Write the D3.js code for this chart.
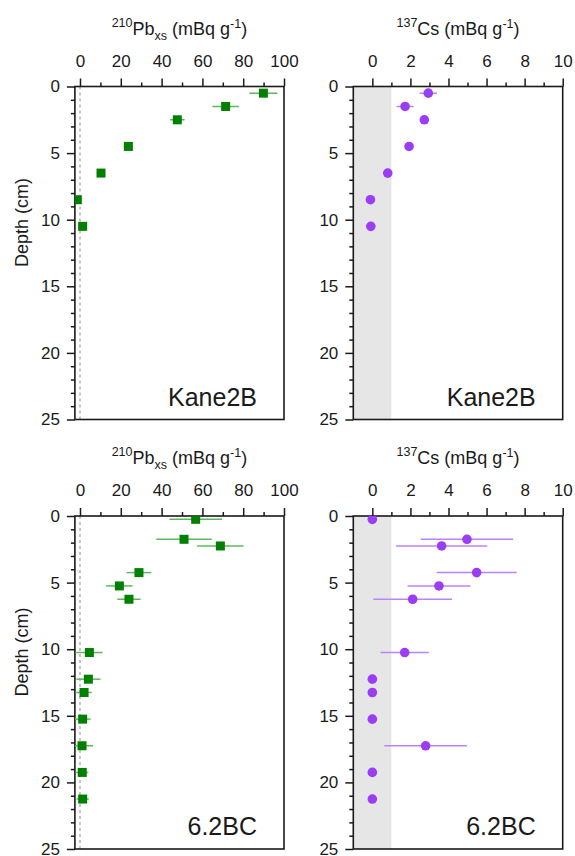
<!DOCTYPE html>
<html>
<head>
<meta charset="utf-8">
<script src="https://cdn.jsdelivr.net/npm/d3@7"></script>
<style>
  body { margin: 0; background: #fff; }
  text { font-family: "Liberation Sans", Arial, sans-serif; fill: #1a1a1a; }
</style>
</head>
<body>
<svg id="chart" width="575" height="856"></svg>
<script>
// Kane2B core
const kaneDepth = [0.5, 1.5, 2.5, 4.5, 6.5, 8.5, 10.5];
const kanePb = [89.9, 71.4, 47.7, 23.7, 10.3, -1.3, 1.3];
const kanePbErr = [6.9, 6.5, 3.6, 2.2, 2.0, 1.5, 1.8];
const kaneCs = [2.94, 1.72, 2.73, 1.93, 0.81, -0.1, -0.08];
const kaneCsErr = [0.46, 0.45, 0.2, 0, 0, 0, 0];

// 6.2BC core
const bcDepth = [0.25, 1.75, 2.25, 4.25, 5.25, 6.25, 10.25, 12.25, 13.25, 15.25, 17.25, 19.25, 21.25];
const bcPb = [56.7, 51.0, 68.8, 28.9, 19.3, 24.0, 4.6, 4.1, 2.0, 1.3, 1.0, 1.1, 1.3];
const bcPbErr = [12.9, 13.6, 11.4, 6.1, 6.5, 5.7, 6.4, 5.9, 3.8, 3.9, 5.4, 3.0, 3.0];
const bcCs = [0, 4.97, 3.64, 5.48, 3.5, 2.12, 1.7, 0, 0, 0, 2.8, 0, 0];
const bcCsErr = [0, 2.43, 2.4, 2.1, 1.65, 2.07, 1.27, 0, 0, 0, 2.17, 0, 0];

// axes
const pbDomain = [-2.5, 100];
const pbTicks = [0, 20, 40, 60, 80, 100];
const pbMinor = [10, 30, 50, 70, 90];
const csDomain = [-1, 10];
const csTicks = [0, 2, 4, 6, 8, 10];
const csMinor = [1, 3, 5, 7, 9];
const csBand = [-1, 1];   // grey band near zero
const depthDomain = [0, 25];
const depthTicks = [0, 5, 10, 15, 20, 25];
const depthMinor = d3.range(1, 25).filter(d => d % 5 !== 0);

const svg = d3.select('#chart');
const ink = '#1a1a1a';

function drawPanel(p, idx) {
    const x = d3.scaleLinear().domain(p.xDomain).range([p.left, p.right]);
    const y = d3.scaleLinear().domain(depthDomain).range([p.top, p.bottom]);
    const g = svg.append('g');

    const clipId = 'clip' + idx;
    g.append('clipPath').attr('id', clipId)
        .append('rect')
        .attr('x', p.left).attr('y', p.top)
        .attr('width', p.right - p.left).attr('height', p.bottom - p.top);

    if (p.band) {
        g.append('rect')
            .attr('x', x(p.band[0])).attr('y', p.top)
            .attr('width', x(p.band[1]) - x(p.band[0]))
            .attr('height', p.bottom - p.top)
            .attr('fill', '#e6e6e6');
    }
    if (p.zeroLine) {
        g.append('line')
            .attr('x1', x(0)).attr('x2', x(0))
            .attr('y1', p.top).attr('y2', p.bottom)
            .attr('stroke', '#a8a8a8').attr('stroke-width', 1.3)
            .attr('stroke-dasharray', '3,3');
    }

    // top axis
    const xMajor = g.append('g').attr('transform', `translate(0,${p.top})`)
        .call(d3.axisTop(x).tickValues(p.xTicks).tickSize(8).tickPadding(12));
    const xMin = g.append('g').attr('transform', `translate(0,${p.top})`)
        .call(d3.axisTop(x).tickValues(p.xMinor).tickSize(4).tickFormat(''));
    // left axis
    const yMajor = g.append('g').attr('transform', `translate(${p.left},0)`)
        .call(d3.axisLeft(y).tickValues(depthTicks).tickSize(8).tickPadding(7));
    const yMin = g.append('g').attr('transform', `translate(${p.left},0)`)
        .call(d3.axisLeft(y).tickValues(depthMinor).tickSize(4).tickFormat(''));

    [xMajor, xMin, yMajor, yMin].forEach(a => {
        a.select('.domain').remove();
        a.selectAll('line').attr('stroke', ink).attr('stroke-width', 1.5);
        a.selectAll('text').attr('font-size', 17)
            .attr('font-family', '"Liberation Sans", Arial, sans-serif')
            .attr('fill', ink);
    });

    // frame
    g.append('rect')
        .attr('x', p.left).attr('y', p.top)
        .attr('width', p.right - p.left).attr('height', p.bottom - p.top)
        .attr('fill', 'none').attr('stroke', ink).attr('stroke-width', 1.6);

    // data
    const rows = p.depth.map((d, i) => ({ d, v: p.vals[i], e: p.errs[i] }));
    const marks = g.append('g').attr('clip-path', `url(#${clipId})`);

    marks.selectAll('.err').data(rows.filter(r => r.e > 0)).enter()
        .append('line')
        .attr('x1', r => x(r.v - r.e)).attr('x2', r => x(r.v + r.e))
        .attr('y1', r => y(r.d)).attr('y2', r => y(r.d))
        .attr('stroke', p.errColor).attr('stroke-width', 1.5);

    if (p.shape === 'square') {
        const s = 9;
        marks.selectAll('.pt').data(rows).enter()
            .append('rect')
            .attr('x', r => x(r.v) - s / 2).attr('y', r => y(r.d) - s / 2)
            .attr('width', s).attr('height', s)
            .attr('fill', p.color);
    } else {
        marks.selectAll('.pt').data(rows).enter()
            .append('circle')
            .attr('cx', r => x(r.v)).attr('cy', r => y(r.d))
            .attr('r', 4.8)
            .attr('fill', p.color);
    }

    // axis title
    const t = g.append('text')
        .attr('x', (p.left + p.right) / 2)
        .attr('y', p.top - 52)
        .attr('text-anchor', 'middle')
        .attr('font-size', 18);
    t.append('tspan').attr('font-size', 12.5).attr('dy', -8).text(p.iso);
    t.append('tspan').attr('dy', 8).text(p.elem);
    if (p.sub) {
        t.append('tspan').attr('font-size', 12.5).attr('dy', 5).text(p.sub);
        t.append('tspan').attr('dy', -5).text(' (mBq g');
    } else {
        t.append('tspan').text(' (mBq g');
    }
    t.append('tspan').attr('font-size', 12.5).attr('dy', -7).text('-1');
    t.append('tspan').attr('dy', 7).text(')');

    // core label
    g.append('text')
        .attr('x', p.right - 27)
        .attr('y', p.bottom - 14)
        .attr('text-anchor', 'end')
        .attr('font-size', 25)
        .text(p.label);

    if (p.yLabel) {
        g.append('text')
            .attr('transform', `translate(28,${p.top + 136}) rotate(-90)`)
            .attr('text-anchor', 'middle')
            .attr('font-size', 18)
            .text('Depth (cm)');
    }
}

const rowsTop = [86.5, 516];
const panels = [
    { top: rowsTop[0], label: 'Kane2B', depth: kaneDepth, vals: kanePb, errs: kanePbErr, kind: 'pb' },
    { top: rowsTop[0], label: 'Kane2B', depth: kaneDepth, vals: kaneCs, errs: kaneCsErr, kind: 'cs' },
    { top: rowsTop[1], label: '6.2BC', depth: bcDepth, vals: bcPb, errs: bcPbErr, kind: 'pb' },
    { top: rowsTop[1], label: '6.2BC', depth: bcDepth, vals: bcCs, errs: bcCsErr, kind: 'cs' }
];

panels.forEach((p, i) => {
    p.bottom = p.top + 333;
    if (p.kind === 'pb') {
        Object.assign(p, {
            left: 74.9, right: 284, xDomain: pbDomain, xTicks: pbTicks, xMinor: pbMinor,
            iso: '210', elem: 'Pb', sub: 'xs', shape: 'square',
            color: '#008000', errColor: '#5cb85c', zeroLine: true, yLabel: true
        });
    } else {
        Object.assign(p, {
            left: 353.3, right: 562.7, xDomain: csDomain, xTicks: csTicks, xMinor: csMinor,
            iso: '137', elem: 'Cs', sub: null, shape: 'circle',
            color: '#9b3cf6', errColor: '#bb84f8', band: csBand, yLabel: false
        });
    }
    drawPanel(p, i);
});
</script>
</body>
</html>
